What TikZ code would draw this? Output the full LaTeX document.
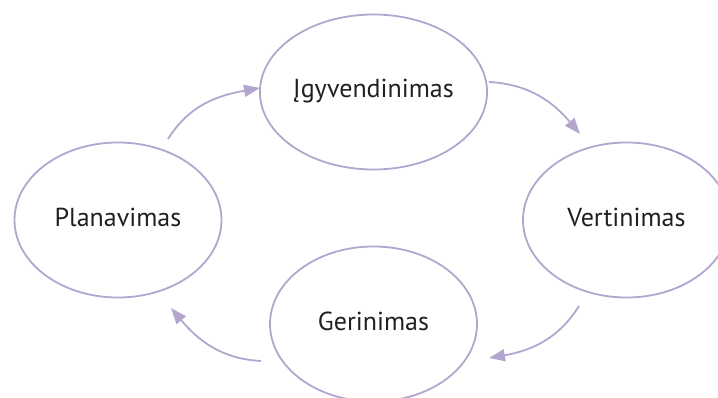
\documentclass[tikz,border=0pt]{standalone}
\usepackage{fontspec}
\setmainfont{PT Sans}
\usetikzlibrary{arrows.meta,shapes.geometric}
\definecolor{cyclelilac}{HTML}{B2A6CE}
\definecolor{inkblack}{HTML}{231F20}

\begin{document}
\begin{tikzpicture}[x=1pt,y=1pt,
  stage/.style={ellipse, draw=cyclelilac, line width=1.8pt,
    minimum width=207pt, minimum height=155pt, inner sep=0pt,
    text=inkblack, font=\fontsize{26}{30}\selectfont,
    text height=16pt, text depth=4pt},
  flow/.style={draw=cyclelilac, line width=1.8pt,
    -{Triangle[length=16pt,width=12pt]}}
]
\useasboundingbox (0,0) rectangle (718,397);
\clip (0,0) rectangle (718,397);

% the four stages of the cycle
\node[stage] (impl) at (373.5,305) {Įgyvendinimas};
\node[stage] (plan) at (118,177) {Planavimas};
\node[stage] (eval) at (626.5,177) {Vertinimas};
\node[stage] (impr) at (373.5,73) {Gerinimas};

% curved arrows running clockwise between the stages
\draw[flow] ([shift={(50,81)}]plan.center) to[out=58,in=190]
  ([shift={(-113.5,4)}]impl.center);
\draw[flow] ([shift={(115.5,10)}]impl.center) to[out=-3,in=130]
  ([shift={(-46.5,86)}]eval.center);
\draw[flow] ([shift={(-47.5,-86)}]eval.center) to[out=238,in=10]
  ([shift={(115.5,-34)}]impr.center);
\draw[flow] ([shift={(-112.5,-37)}]impr.center) to[out=177,in=-50]
  ([shift={(53,-88)}]plan.center);
\end{tikzpicture}
\end{document}
